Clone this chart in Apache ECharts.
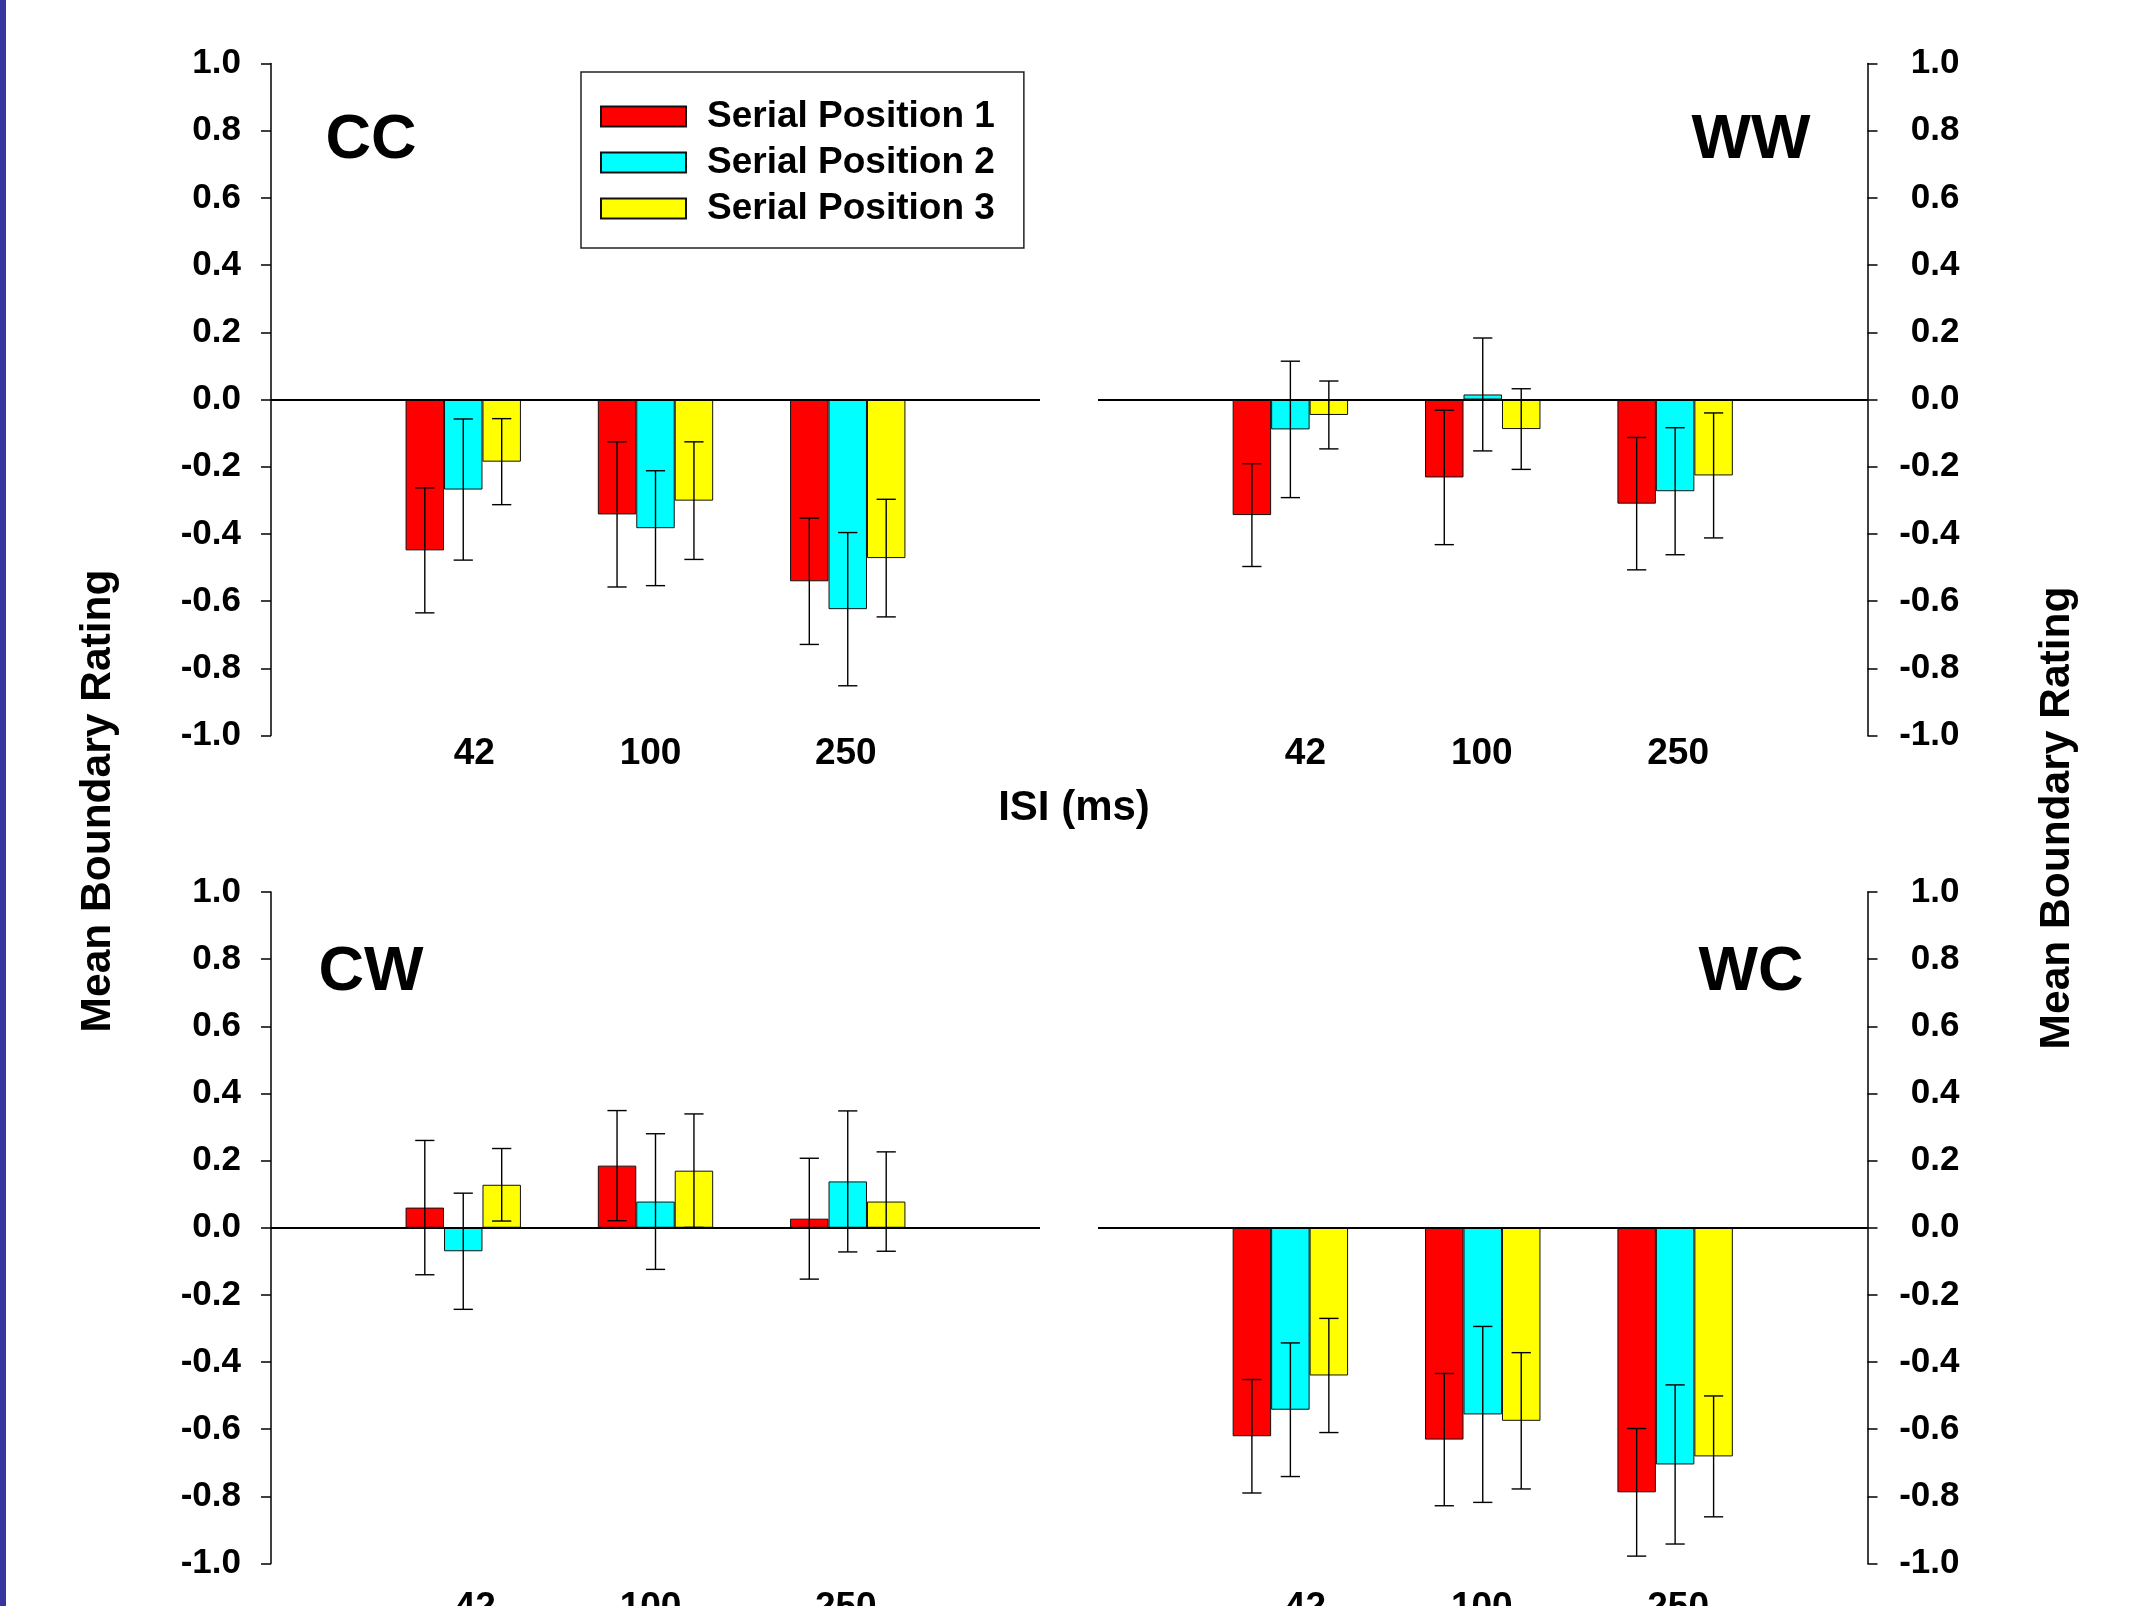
<!DOCTYPE html>
<html>
<head>
<meta charset="utf-8">
<script src="https://cdn.jsdelivr.net/npm/echarts@6/dist/echarts.min.js"></script>
<style>
html,body{margin:0;padding:0;background:#fff;}
#chart{width:2142px;height:1606px;}
</style>
</head>
<body>
<div id="chart"></div>
<script>
// ---- data ----
const isiLabels = ['42', '100', '250'];
const positionNames = ['Serial Position 1', 'Serial Position 2', 'Serial Position 3'];
const panelNames = ['CC', 'WW', 'CW', 'WC'];
const yTicks = [-1.0, -0.8, -0.6, -0.4, -0.2, 0.0, 0.2, 0.4, 0.6, 0.8, 1.0];

// rows: serial position 1..3 ; columns: ISI 42, 100, 250
const ccMeans = [[-0.449, -0.342, -0.541], [-0.268, -0.383, -0.624], [-0.185, -0.301, -0.472]];
const ccErrors = [[0.186, 0.216, 0.188], [0.210, 0.171, 0.228], [0.128, 0.175, 0.175]];
const wwMeans = [[-0.344, -0.232, -0.310], [-0.089, 0.015, -0.273], [-0.046, -0.088, -0.226]];
const wwErrors = [[0.153, 0.200, 0.197], [0.203, 0.168, 0.189], [0.101, 0.120, 0.186]];
const cwMeans = [[0.060, 0.185, 0.027], [-0.070, 0.078, 0.138], [0.128, 0.170, 0.078]];
const cwErrors = [[0.200, 0.164, 0.180], [0.173, 0.202, 0.210], [0.108, 0.169, 0.148]];
const wcMeans = [[-0.621, -0.631, -0.788], [-0.542, -0.556, -0.705], [-0.440, -0.575, -0.681]];
const wcErrors = [[0.169, 0.197, 0.190], [0.199, 0.262, 0.237], [0.170, 0.203, 0.180]];

// ---- styles / layout ----
const FONT = "'Liberation Sans', Arial, sans-serif";
const colors = ['#FF0000', '#00FFFF', '#FFFF00'];
const panelMeans = [ccMeans, wwMeans, cwMeans, wcMeans];
const panelErrors = [ccErrors, wwErrors, cwErrors, wcErrors];
const grids = [
  {left: 271, top: 63.5, width: 769, height: 672, outerBoundsMode: 'none', containLabel: false},
  {left: 1098, top: 63.5, width: 769.5, height: 672, outerBoundsMode: 'none', containLabel: false},
  {left: 271, top: 892, width: 769, height: 671.5, outerBoundsMode: 'none', containLabel: false},
  {left: 1098, top: 892, width: 769.5, height: 671.5, outerBoundsMode: 'none', containLabel: false}
];
const labelShift = [[11, -5, -2], [15, -1, 3], [12, -5, -2], [15, -1, 3]];
const xLabelMargin = [0, 0, 26, 26];
const cats = [''].concat(isiLabels, ['']);

const chart = echarts.init(document.getElementById('chart'));

const xAxes = grids.map((g, p) => {
  const rich = {};
  labelShift[p].forEach((s, i) => {
    rich['o' + i] = {
      fontSize: 37, fontWeight: 'bold', fontFamily: FONT, color: '#000',
      padding: s > 0 ? [0, 0, 0, 2 * s] : [0, -2 * s, 0, 0]
    };
  });
  return {
    gridIndex: p, type: 'category', data: cats, boundaryGap: false,
    axisLine: {show: false, onZero: false}, axisTick: {show: false}, splitLine: {show: false},
    axisLabel: {
      interval: 0, margin: xLabelMargin[p],
      fontSize: 37, fontWeight: 'bold', fontFamily: FONT, color: '#000',
      formatter: (v, i) => (i >= 1 && i <= 3) ? '{o' + (i - 1) + '|' + v + '}' : '',
      rich: rich
    }
  };
});

const yAxes = grids.map((g, p) => {
  const right = (p % 2 === 1);
  return {
    gridIndex: p, type: 'value', position: right ? 'right' : 'left',
    min: yTicks[0], max: yTicks[yTicks.length - 1], interval: 0.2,
    splitLine: {show: false},
    axisLine: {show: true, onZero: false, lineStyle: {color: '#000', width: 1.5}},
    axisTick: {show: true, length: 10, lineStyle: {color: '#000', width: 1.5}},
    axisLabel: {
      fontSize: 35, fontWeight: 'bold', fontFamily: FONT, color: '#000',
      align: 'right', margin: right ? 92 : 30,
      formatter: v => (Math.abs(v) < 1e-9 ? 0 : v).toFixed(1)
    }
  };
});

const series = [];
panelMeans.forEach((means, p) => {
  means.forEach((row, k) => {
    const s = {
      name: positionNames[k], type: 'bar', xAxisIndex: p, yAxisIndex: p,
      data: ['-'].concat(row, ['-']),
      barWidth: '20%', barGap: '0%',
      itemStyle: {color: colors[k], borderColor: '#111', borderWidth: 1},
      emphasis: {disabled: true}, z: 2
    };
    if (k === 0) {
      s.markLine = {
        silent: true, symbol: 'none', label: {show: false},
        lineStyle: {color: '#000', width: 2.2, type: 'solid'},
        data: [{yAxis: 0}], z: 5
      };
    }
    series.push(s);
  });
});
panelMeans.forEach((means, p) => {
  means.forEach((row, k) => {
    const errs = panelErrors[p][k];
    series.push({
      name: 'err-' + p + '-' + k, type: 'custom', xAxisIndex: p, yAxisIndex: p, z: 6,
      encode: {x: 0, y: 1},
      data: row.map((m, i) => [i + 1, m, errs[i]]),
      renderItem: (params, api) => {
        const bw = api.size([1, 0])[0] * 0.2;
        const c = api.coord([api.value(0), 0]);
        const x = c[0] + (k - 1) * bw;
        const m = api.value(1), e = api.value(2);
        const yHi = api.coord([api.value(0), m + e])[1];
        const yLo = api.coord([api.value(0), m - e])[1];
        const hw = bw / 4;
        const st = {stroke: '#000', lineWidth: 1.4};
        return {
          type: 'group', children: [
            {type: 'line', shape: {x1: x, y1: yHi, x2: x, y2: yLo}, style: st},
            {type: 'line', shape: {x1: x - hw, y1: yHi, x2: x + hw, y2: yHi}, style: st},
            {type: 'line', shape: {x1: x - hw, y1: yLo, x2: x + hw, y2: yLo}, style: st}
          ]
        };
      }
    });
  });
});

const titlePos = [[371, 141], [1751, 141], [371, 973], [1751, 973]];
const graphics = [
  {type: 'rect', left: 0, top: 0, shape: {x: 0, y: 0, width: 6, height: 1606}, style: {fill: '#3636A0'}, silent: true}
];
panelNames.forEach((n, i) => {
  graphics.push({type: 'text', x: titlePos[i][0], y: titlePos[i][1], silent: true,
    style: {text: n, font: 'bold 63px ' + FONT, fill: '#000', align: 'center', verticalAlign: 'middle'}});
});
graphics.push({type: 'text', x: 1074, y: 808.5, silent: true,
  style: {text: 'ISI (ms)', font: 'bold 42px ' + FONT, fill: '#000', align: 'center', verticalAlign: 'middle'}});
graphics.push({type: 'text', x: 98.5, y: 801, rotation: Math.PI / 2, silent: true,
  style: {text: 'Mean Boundary Rating', font: 'bold 42.5px ' + FONT, fill: '#000', align: 'center', verticalAlign: 'middle'}});
graphics.push({type: 'text', x: 2057.5, y: 818, rotation: Math.PI / 2, silent: true,
  style: {text: 'Mean Boundary Rating', font: 'bold 42.5px ' + FONT, fill: '#000', align: 'center', verticalAlign: 'middle'}});

chart.setOption({
  animation: false,
  backgroundColor: '#fff',
  grid: grids,
  xAxis: xAxes,
  yAxis: yAxes,
  legend: {
    data: positionNames, orient: 'vertical', left: 581, top: 72,
    padding: [26, 29, 21, 19], itemGap: 9, itemWidth: 85, itemHeight: 20,
    icon: 'rect', selectedMode: false,
    borderColor: '#222', borderWidth: 1.5, backgroundColor: '#fff',
    textStyle: {fontSize: 37, fontWeight: 'bold', fontFamily: FONT, color: '#000', padding: [0, 0, 0, 16]}
  },
  series: series,
  graphic: graphics
});
</script>
</body>
</html>
